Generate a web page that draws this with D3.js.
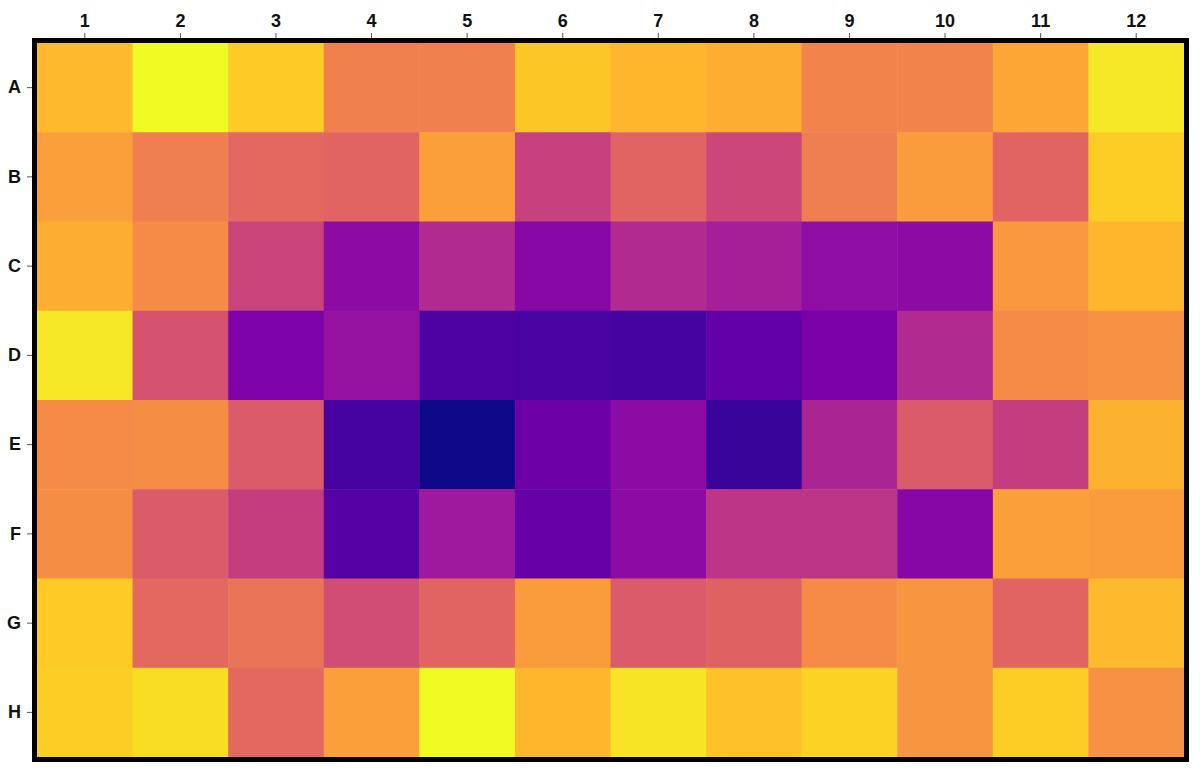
<!DOCTYPE html>
<html>
<head>
<meta charset="utf-8">
<script src="https://cdn.jsdelivr.net/npm/d3@7"></script>
<style>
  body { margin: 0; background: #fff; }
</style>
</head>
<body>
<div id="container"></div>
<script>
// plate rows / columns
const rows = ['A', 'B', 'C', 'D', 'E', 'F', 'G', 'H'];
const cols = ['1', '2', '3', '4', '5', '6', '7', '8', '9', '10', '11', '12'];

// well values (0..1)
const rowA = [0.85, 1.00, 0.89, 0.69, 0.69, 0.88, 0.84, 0.82, 0.70, 0.70, 0.80, 0.96];
const rowB = [0.78, 0.68, 0.61, 0.60, 0.78, 0.48, 0.60, 0.50, 0.68, 0.77, 0.60, 0.90];
const rowC = [0.82, 0.72, 0.49, 0.29, 0.40, 0.28, 0.40, 0.36, 0.30, 0.29, 0.76, 0.84];
const rowD = [0.96, 0.54, 0.25, 0.32, 0.13, 0.12, 0.11, 0.18, 0.24, 0.40, 0.72, 0.74];
const rowE = [0.72, 0.73, 0.57, 0.11, 0.00, 0.21, 0.29, 0.08, 0.38, 0.57, 0.47, 0.83];
const rowF = [0.73, 0.57, 0.47, 0.15, 0.34, 0.19, 0.29, 0.44, 0.44, 0.27, 0.78, 0.77];
const rowG = [0.89, 0.61, 0.65, 0.52, 0.60, 0.77, 0.57, 0.59, 0.72, 0.75, 0.60, 0.85];
const rowH = [0.90, 0.93, 0.61, 0.78, 1.00, 0.84, 0.95, 0.87, 0.91, 0.75, 0.90, 0.74];
const values = [rowA, rowB, rowC, rowD, rowE, rowF, rowG, rowH];

const width = 1200, height = 774;
const margin = { top: 43, right: 16, bottom: 17, left: 37 };

const cells = [];
values.forEach((r, i) => r.forEach((v, j) => cells.push({ row: rows[i], col: cols[j], v: v })));

const x = d3.scaleBand().domain(cols).range([margin.left, width - margin.right]);
const y = d3.scaleBand().domain(rows).range([margin.top, height - margin.bottom]);
const color = d3.scaleSequential(d3.interpolatePlasma)
    .domain(d3.extent(cells, d => d.v));

const svg = d3.create('svg')
    .attr('width', width)
    .attr('height', height);

svg.append('g').selectAll('rect').data(cells).enter().append('rect')
    .attr('x', d => x(d.col))
    .attr('y', d => y(d.row))
    .attr('width', x.bandwidth() + 0.5)
    .attr('height', y.bandwidth() + 0.5)
    .attr('fill', d => color(d.v));

// frame round the plate
svg.append('rect')
    .attr('x', margin.left - 2.5)
    .attr('y', margin.top - 2.5)
    .attr('width', width - margin.left - margin.right + 5)
    .attr('height', height - margin.top - margin.bottom + 5)
    .attr('fill', 'none')
    .attr('stroke', '#000')
    .attr('stroke-width', 5);

const xAxis = svg.append('g')
    .attr('transform', `translate(0, ${margin.top - 5})`)
    .call(d3.axisTop(x).tickSize(5).tickPadding(6));
const yAxis = svg.append('g')
    .attr('transform', `translate(${margin.left - 5}, 0)`)
    .call(d3.axisLeft(y).tickSize(5).tickPadding(6));

[xAxis, yAxis].forEach(a => {
  a.select('.domain').remove();
  a.selectAll('line').attr('stroke', '#555');
  a.selectAll('text')
    .attr('font-family', '"Liberation Sans", Arial, sans-serif')
    .attr('font-weight', 'bold')
    .attr('font-size', 18)
    .attr('fill', '#111');
});

container.append(svg.node());
</script>
</body>
</html>
